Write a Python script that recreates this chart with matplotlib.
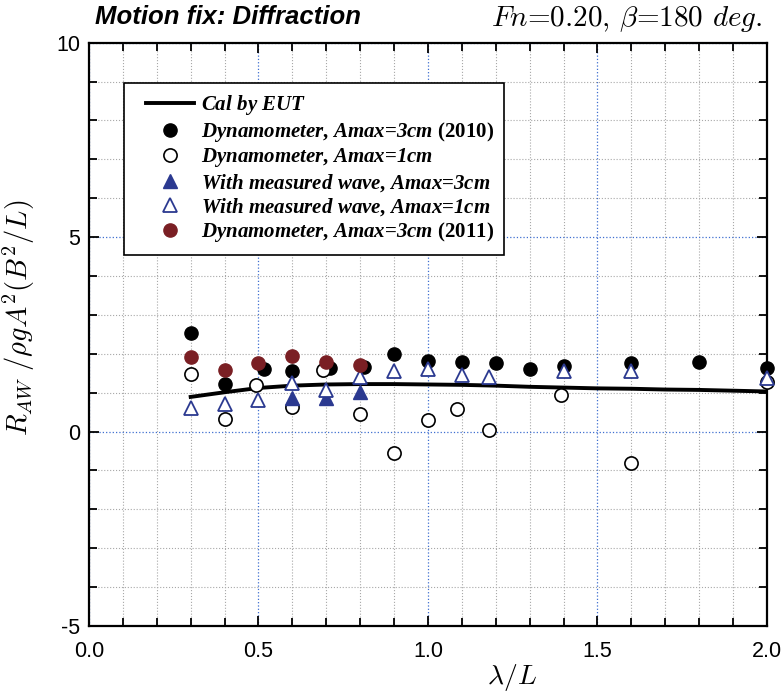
import matplotlib
matplotlib.use("Agg")
import matplotlib.pyplot as plt
from matplotlib.font_manager import FontProperties
from matplotlib.legend_handler import HandlerLine2D
from matplotlib.lines import Line2D
from matplotlib.ticker import MultipleLocator

# Calculation by EUT
cal_x = [0.3, 0.4, 0.5, 0.6, 0.7, 0.8, 0.9, 1.0, 1.1, 1.2, 1.3, 1.4, 1.5, 1.6, 1.7, 1.8, 1.9, 2.0]
cal_y = [0.89, 1.01, 1.12, 1.18, 1.21, 1.22, 1.22, 1.21, 1.20, 1.18, 1.15, 1.13, 1.11, 1.10, 1.08, 1.07, 1.05, 1.03]

# Dynamometer, Amax=3cm (2010)
dyn3_x = [0.3, 0.4, 0.516, 0.6, 0.71, 0.81, 0.9, 1.0, 1.1, 1.2, 1.3, 1.4, 1.6, 1.8, 2.0]
dyn3_y = [2.54, 1.23, 1.61, 1.56, 1.63, 1.67, 2.0, 1.82, 1.80, 1.77, 1.61, 1.68, 1.77, 1.79, 1.64]

# Dynamometer, Amax=1cm
dyn1_x = [0.3, 0.4, 0.494, 0.6, 0.69, 0.8, 0.9, 1.0, 1.085, 1.18, 1.393, 1.6, 2.0]
dyn1_y = [1.49, 0.31, 1.19, 0.63, 1.59, 0.45, -0.54, 0.30, 0.57, 0.03, 0.95, -0.82, 1.27]

# With measured wave, Amax=3cm
mw3_x = [0.6, 0.7, 0.8]
mw3_y = [0.86, 0.86, 1.02]

# With measured wave, Amax=1cm
mw1_x = [0.3, 0.4, 0.5, 0.6, 0.7, 0.8, 0.9, 1.0, 1.1, 1.18, 1.4, 1.6, 2.0]
mw1_y = [0.60, 0.70, 0.81, 1.25, 1.06, 1.39, 1.56, 1.60, 1.46, 1.39, 1.56, 1.55, 1.37]

# Dynamometer, Amax=3cm (2011)
dyn11_x = [0.3, 0.4, 0.5, 0.6, 0.7, 0.8]
dyn11_y = [1.92, 1.59, 1.77, 1.95, 1.78, 1.72]

navy = "#2b3990"
darkred = "#7a1f24"

plt.rcParams["axes.unicode_minus"] = False
plt.rcParams["mathtext.fontset"] = "custom"
plt.rcParams["mathtext.rm"] = "Liberation Serif:bold:italic"
plt.rcParams["mathtext.it"] = "Liberation Serif:bold:italic"
plt.rcParams["mathtext.bf"] = "Liberation Serif:bold:italic"

sans = ["Liberation Sans Narrow", "Liberation Sans"]

fig = plt.figure(figsize=(7.82, 6.92), dpi=100)
ax = fig.add_axes([0.1138, 0.0954, 0.867, 0.843])

ax.plot(cal_x, cal_y, color="black", lw=2.8, label=r"$Cal\ by\ EUT$", zorder=3)
ax.plot(dyn3_x, dyn3_y, "o", color="black", ms=9.5, clip_on=False,
        label=r"$Dynamometer$, $Amax$=$3cm$ (2010)", zorder=4)
ax.plot(dyn1_x, dyn1_y, "o", mfc="white", mec="black", mew=1.2, ms=9.5, clip_on=False,
        label=r"$Dynamometer$, $Amax$=$1cm$", zorder=4)
ax.plot(mw3_x, mw3_y, "^", color=navy, ms=10, clip_on=False,
        label=r"$With\ measured\ wave$, $Amax$=$3cm$", zorder=4)
ax.plot(mw1_x, mw1_y, "^", mfc="white", mec=navy, mew=1.3, ms=10, clip_on=False,
        label=r"$With\ measured\ wave$, $Amax$=$1cm$", zorder=4)
ax.plot(dyn11_x, dyn11_y, "o", color=darkred, ms=9.5, clip_on=False,
        label=r"$Dynamometer$, $Amax$=$3cm$ (2011)", zorder=4)

ax.set_xlim(0, 2.0)
ax.set_ylim(-5, 10)
ax.xaxis.set_major_locator(MultipleLocator(0.5))
ax.xaxis.set_minor_locator(MultipleLocator(0.1))
ax.yaxis.set_major_locator(MultipleLocator(5))
ax.yaxis.set_minor_locator(MultipleLocator(1))
ax.xaxis.set_major_formatter(lambda v, p: f"{v:.1f}")
ax.yaxis.set_major_formatter(lambda v, p: f"{v:.0f}")

ax.grid(which="minor", color="#a8a8a8", ls=":", lw=0.8)
ax.grid(which="major", color="#3f6fd0", ls=":", lw=0.9)
ax.set_axisbelow(True)

ax.tick_params(which="both", direction="in", top=True, right=True, width=1.3)
ax.tick_params(which="major", length=7)
ax.tick_params(which="minor", length=6)
ax.tick_params(axis="x", which="both", pad=11)
ax.tick_params(axis="y", which="both", pad=6.5)
for lab in ax.get_xticklabels() + ax.get_yticklabels():
    lab.set_fontfamily(sans)
    lab.set_fontsize(15.5)
for sp in ax.spines.values():
    sp.set_linewidth(1.6)

ax.set_xlabel(r"$\lambda/L$", fontsize=20, math_fontfamily="cm")
ax.xaxis.set_label_coords(0.624, -0.062)
ax.set_ylabel(r"$R_{AW}\ /\rho g A^2(B^2/L)$", fontsize=20.5, math_fontfamily="cm")
ax.yaxis.set_label_coords(-0.077, 0.528)

fig.text(0.122, 0.975, "Motion fix: Diffraction", fontsize=18.5, fontweight="bold",
         fontstyle="italic", family=sans, ha="left", va="center")
fig.text(0.975, 0.972, r"$Fn$=0.20, $\beta$=180 $deg.$", fontsize=21,
         family="cmr10", math_fontfamily="cm", ha="right", va="center")

leg_prop = FontProperties(family="Liberation Serif", weight="bold", size=15,
                          math_fontfamily="custom")
leg = ax.legend(loc="upper left", bbox_to_anchor=(0.0516, 0.931), borderaxespad=0,
                prop=leg_prop, frameon=True, fancybox=False, edgecolor="black",
                handlelength=2.85, handletextpad=0.33, labelspacing=0.12,
                borderpad=0.5, handler_map={Line2D: HandlerLine2D(xpad=0.55)})
leg.get_frame().set_linewidth(1.2)
leg.get_frame().set_alpha(1)

fig.savefig("out.png", dpi=100)
